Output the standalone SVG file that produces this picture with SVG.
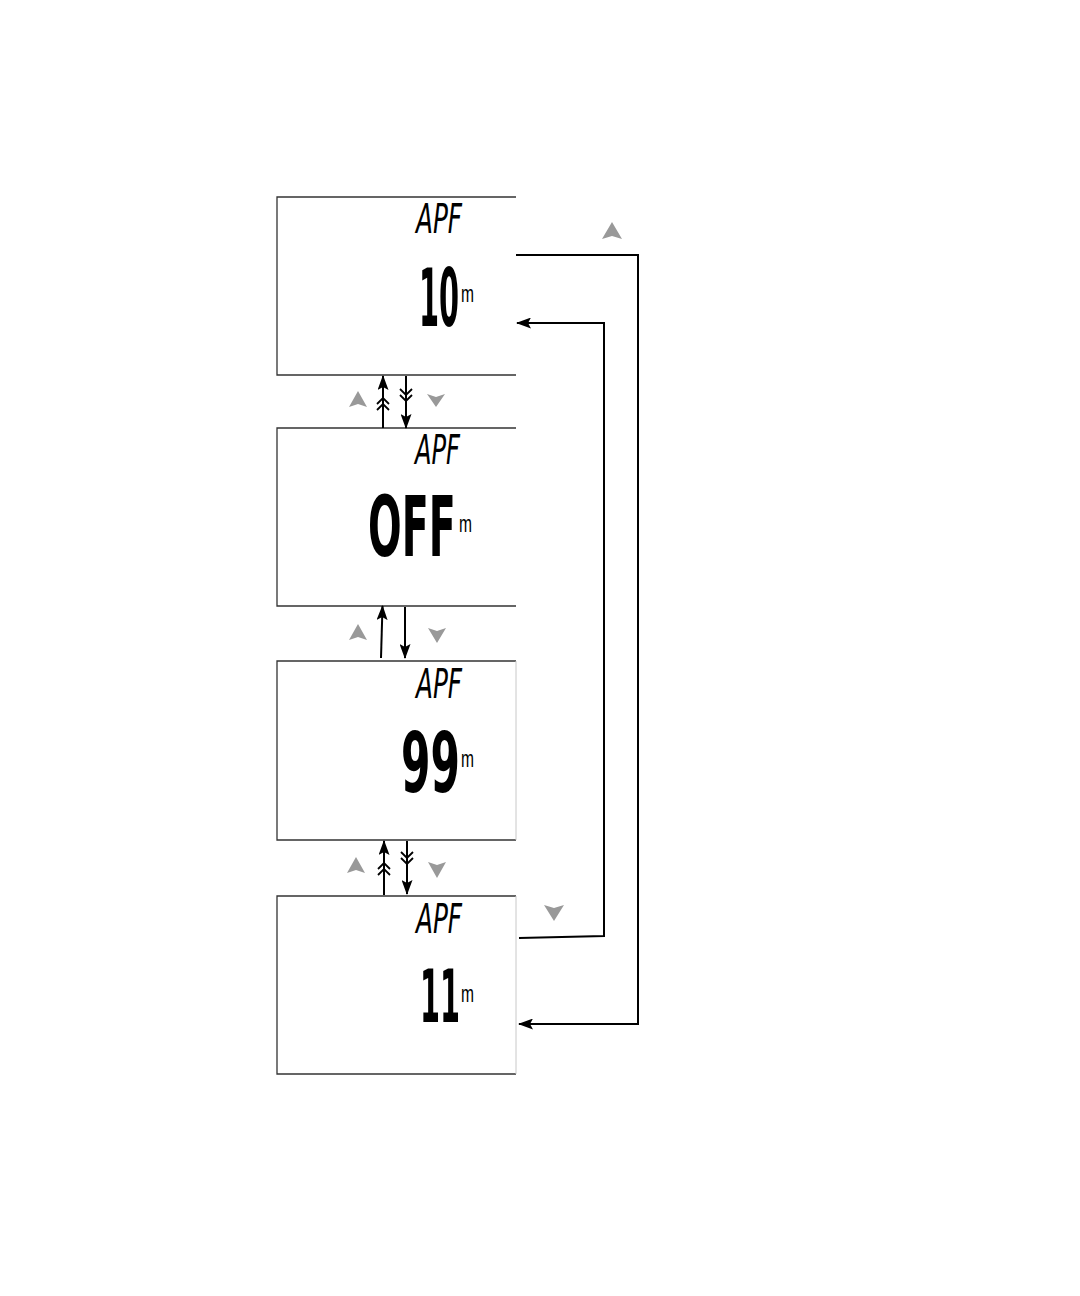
<svg xmlns="http://www.w3.org/2000/svg" width="1080" height="1296" viewBox="0 0 1080 1296">
<style>
.frame{fill:none;stroke:#333;stroke-width:1.3}
.rside{stroke:#c8c8c8;stroke-width:1}
.lcd{font-family:"DejaVu Sans Condensed","Liberation Sans Narrow","DejaVu Sans",sans-serif;fill:#000}
.apf{font-size:40px;font-weight:normal;font-style:oblique}
.big{font-weight:bold}
.unit{font-family:"Liberation Sans","Arial",sans-serif;font-size:23px;fill:#000}
.wire{fill:none;stroke:#000;stroke-width:2}
.chev{fill:none;stroke:#000;stroke-width:1.8}
.key{fill:#999}
</style>
<defs>
<marker id="ah" markerWidth="15" markerHeight="11" refX="14" refY="5.5" orient="auto" markerUnits="userSpaceOnUse">
<path d="M0,0 L15,5.5 L0,11 L3,5.5 Z" fill="#000"/>
</marker>
</defs>
<rect width="1080" height="1296" fill="#fff"/>

<g id="node-10">
<path class="frame" d="M516,197 H277 V375 H516"/>
<text class="lcd apf" x="416" y="233" textLength="46" lengthAdjust="spacingAndGlyphs">APF</text>
<text class="lcd big" transform="translate(419,326) scale(0.4,1)" x="0" y="0" font-size="80">10</text>
<text class="unit" x="461" y="302" textLength="13" lengthAdjust="spacingAndGlyphs">m</text>
</g>

<g id="node-off">
<path class="frame" d="M516,428 H277 V606 H516"/>
<text class="lcd apf" x="415" y="464" textLength="45" lengthAdjust="spacingAndGlyphs">APF</text>
<text class="lcd big" transform="translate(368,556) scale(0.53,1)" x="0" y="0" font-size="83">OFF</text>
<text class="unit" x="459" y="532" textLength="13" lengthAdjust="spacingAndGlyphs">m</text>
</g>

<g id="node-99">
<path class="frame" d="M516,661 H277 V840 H516"/>
<line class="rside" x1="516" y1="661" x2="516" y2="840"/>
<text class="lcd apf" x="416" y="698" textLength="46" lengthAdjust="spacingAndGlyphs">APF</text>
<text class="lcd big" transform="translate(401,792) scale(0.56,1)" x="0" y="0" font-size="84">99</text>
<text class="unit" x="461" y="767" textLength="13" lengthAdjust="spacingAndGlyphs">m</text>
</g>

<g id="node-11">
<path class="frame" d="M516,896 H277 V1074 H516"/>
<line class="rside" x1="516" y1="896" x2="516" y2="1074"/>
<text class="lcd apf" x="416" y="933" textLength="46" lengthAdjust="spacingAndGlyphs">APF</text>
<text class="lcd big" transform="translate(420,1022) scale(0.437,1)" x="0" y="0" font-size="73">11</text>
<text class="unit" x="461" y="1002" textLength="13" lengthAdjust="spacingAndGlyphs">m</text>
</g>

<g id="connectors">
<!-- box1 <-> box2 -->
<line class="wire" x1="383" y1="428" x2="383" y2="376" marker-end="url(#ah)"/>
<path class="chev" d="M377,404 L383,398 L389,404 M377,410 L383,404 L389,410"/>
<line class="wire" x1="406" y1="376" x2="406" y2="428" marker-end="url(#ah)"/>
<path class="chev" d="M400,389 L406,395 L412,389 M400,395 L406,401 L412,395"/>
<!-- box2 <-> box3 -->
<line class="wire" x1="381" y1="658" x2="382.5" y2="606" marker-end="url(#ah)"/>
<line class="wire" x1="405" y1="607" x2="405" y2="658" marker-end="url(#ah)"/>
<!-- box3 <-> box4 -->
<line class="wire" x1="384" y1="895" x2="384" y2="841" marker-end="url(#ah)"/>
<path class="chev" d="M378,869 L384,863 L390,869 M378,875 L384,869 L390,875"/>
<line class="wire" x1="407" y1="841" x2="407" y2="894" marker-end="url(#ah)"/>
<path class="chev" d="M401,852 L407,858 L413,852 M401,858 L407,864 L413,858"/>
<!-- wrap-around: 10 up -> 11 -->
<path class="wire" d="M516,255 H638 V1024 H519" marker-end="url(#ah)"/>
<!-- wrap-around: 11 down -> 10 -->
<path class="wire" d="M519,938 L604,936 V323 H517" marker-end="url(#ah)"/>
</g>

<g id="keys">
<path class="key" d="M358,391 L367,407 L358,404 L349,407 Z"/>
<path class="key" d="M436,407 L445,394 L436,397 L427,394 Z"/>
<path class="key" d="M358,624 L367,640 L358,637 L349,640 Z"/>
<path class="key" d="M437,643 L446,628 L437,631 L428,628 Z"/>
<path class="key" d="M356,857 L365,873 L356,870 L347,873 Z"/>
<path class="key" d="M437,878 L446,862 L437,865 L428,862 Z"/>
<path class="key" d="M612,222 L622,239 L612,236 L602,239 Z"/>
<path class="key" d="M554,921 L564,905 L554,908 L544,905 Z"/>
</g>
</svg>
